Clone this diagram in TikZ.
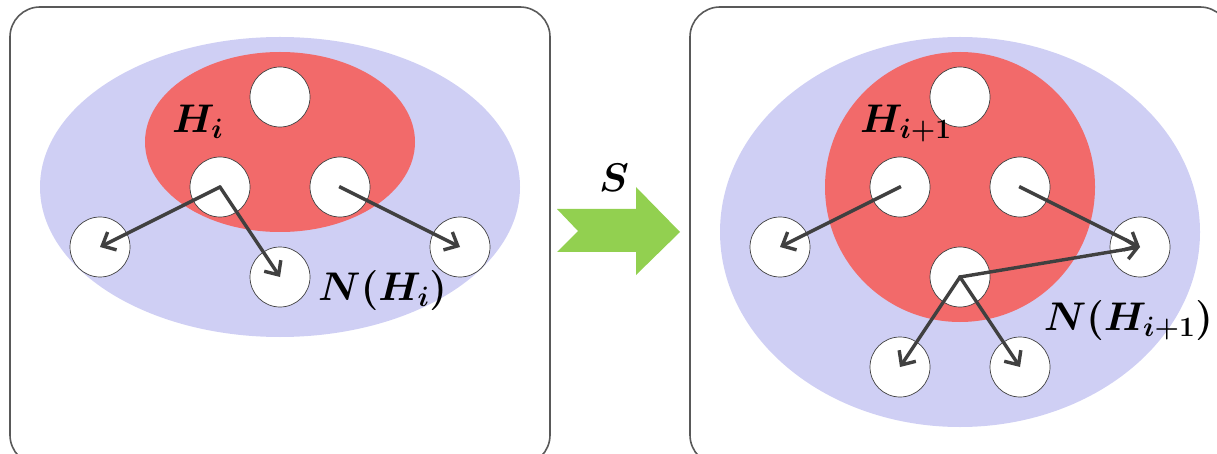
\RequirePackage{fix-cm}
\documentclass[tikz,border=0pt]{standalone}
\usepackage{amsmath,amssymb,bm}
\usetikzlibrary{arrows.meta}
\definecolor{boxline}{HTML}{595959}
\definecolor{outerblue}{HTML}{CFCFF4}
\definecolor{innerred}{HTML}{F26A6A}
\definecolor{arrowgray}{HTML}{404040}
\definecolor{stepgreen}{HTML}{92D050}
\tikzset{
  panel/.style={draw=boxline, line width=1.6pt, rounded corners=30pt},
  vertex/.style={circle, draw=arrowgray, line width=0.7pt, fill=white, minimum size=60pt, inner sep=0pt},
  link/.style={draw=arrowgray, line width=3.4pt, -{Straight Barb[length=11pt,width=20pt,line width=3.4pt]}, shorten <=-1pt},
  lab/.style={inner sep=0pt, anchor=base west, font=\fontsize{40}{44}\selectfont},
}
\begin{document}
\begin{tikzpicture}[x=1pt,y=-1pt]
\useasboundingbox (0,0) rectangle (1217,454);
\clip (0,0) rectangle (1217,454);
% panels
\draw[panel] (10,7) rectangle (550,465);
\draw[panel] (690,7) rectangle (1230,465);
% left sets
\fill[outerblue] (280,187) ellipse [x radius=240, y radius=150];
\fill[innerred] (280,142) ellipse [x radius=135, y radius=90];
% right sets
\fill[outerblue] (960,232) ellipse [x radius=240, y radius=195];
\fill[innerred] (960,187) ellipse [x radius=135, y radius=135];
% left vertices
\node[vertex] (lt) at (280,97) {};
\node[vertex] (la) at (220,187) {};
\node[vertex] (lb) at (340,187) {};
\node[vertex] (lc) at (100,247) {};
\node[vertex] (ld) at (280,277) {};
\node[vertex] (le) at (460,247) {};
% right vertices
\node[vertex] (rt) at (960,97) {};
\node[vertex] (ra) at (900,187) {};
\node[vertex] (rb) at (1020,187) {};
\node[vertex] (rc) at (780,247) {};
\node[vertex] (re) at (1140,247) {};
\node[vertex] (rm) at (960,277) {};
\node[vertex] (rf) at (900,367) {};
\node[vertex] (rg) at (1020,367) {};
% left links
\draw[link] (la.center) -- (lc.center);
\draw[link] (la.center) -- (ld.center);
\draw[link] (lb.center) -- (le.center);
% right links
\draw[link] (ra.center) -- (rc.center);
\draw[link] (rb.center) -- (re.center);
\draw[link] (rm.center) -- (re.center);
\draw[link] (rm.center) -- (rf.center);
\draw[link] (rm.center) -- (rg.center);
% labels
\node[lab] (hi) at (172,133) {$\bm{H_i}$};
\node[lab] (nhi) at (318,300) {$\bm{N(H_i)}$};
\node[lab] (hii) at (860,133) {$\bm{H_{i+1}}$};
\node[lab, anchor=base east] (nhii) at (1213,330) {$\bm{N(H_{i+1})}$};
% step arrow
\fill[stepgreen] (557,209) -- (636,209) -- (636,187) -- (680,232) -- (636,275) -- (636,252) -- (557,252) -- (578,231) -- cycle;
\node[lab, anchor=base] (s) at (614,192) {$\bm{S}$};
\end{tikzpicture}
\end{document}
